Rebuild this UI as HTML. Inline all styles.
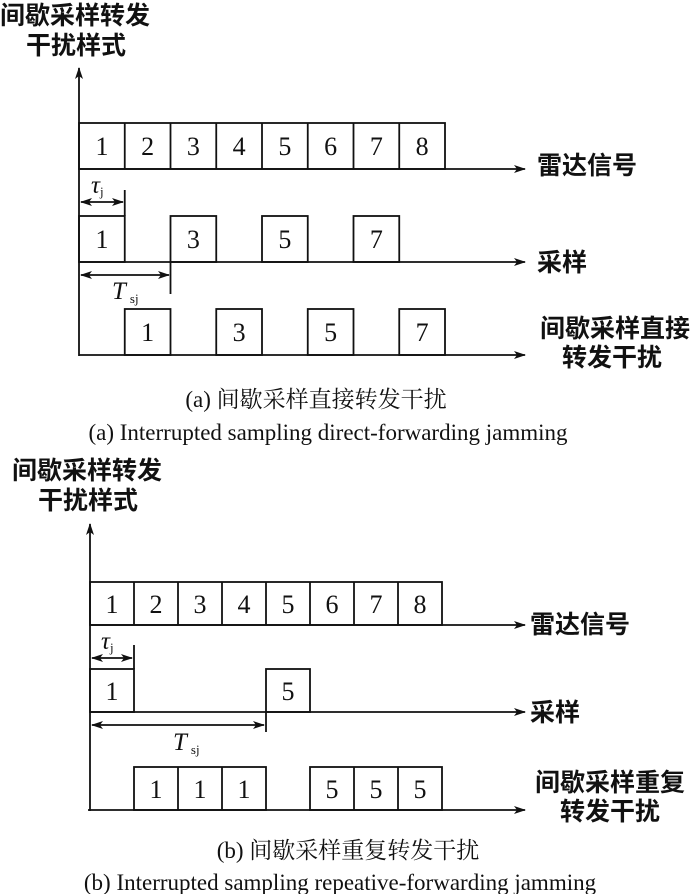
<!DOCTYPE html>
<html><head><meta charset="utf-8"><style>
html,body{margin:0;padding:0;background:#fff;}
svg{display:block;}
text{fill:#111;}
.n{font-family:"Liberation Serif",serif;font-size:26px;text-anchor:middle;}
.c{font-family:"Liberation Serif","Noto Serif CJK SC",serif;font-size:23px;}
.k{font-family:"Liberation Sans","Noto Sans CJK SC",sans-serif;font-size:25px;font-weight:bold;}
</style></head><body>
<svg width="700" height="894" viewBox="0 0 700 894" xmlns="http://www.w3.org/2000/svg">
<defs>
<marker id="a" markerWidth="12" markerHeight="8" refX="11" refY="4" orient="auto" markerUnits="userSpaceOnUse"><path d="M0,0 L12,4 L0,8 L3,4z" fill="#111"/></marker>
<marker id="s" markerWidth="12" markerHeight="8" refX="1" refY="4" orient="auto" markerUnits="userSpaceOnUse"><path d="M12,0 L0,4 L12,8 L9,4z" fill="#111"/></marker>
</defs>
<g stroke="#111" stroke-width="1.8" fill="none">
<line x1="79" y1="356" x2="79" y2="68" marker-end="url(#a)"/>
<line x1="79" y1="169" x2="525" y2="169" marker-end="url(#a)"/>
<line x1="79" y1="262" x2="525" y2="262" marker-end="url(#a)"/>
<line x1="79" y1="355" x2="525" y2="355" marker-end="url(#a)"/>
<rect x="79" y="123" width="366" height="46"/>
<line x1="124.75" y1="123" x2="124.75" y2="169"/><line x1="170.5" y1="123" x2="170.5" y2="169"/><line x1="216.25" y1="123" x2="216.25" y2="169"/><line x1="262" y1="123" x2="262" y2="169"/><line x1="307.75" y1="123" x2="307.75" y2="169"/><line x1="353.5" y1="123" x2="353.5" y2="169"/><line x1="399.25" y1="123" x2="399.25" y2="169"/>
<rect x="79" y="216" width="45.75" height="46"/><rect x="170.5" y="216" width="45.75" height="46"/><rect x="262" y="216" width="45.75" height="46"/><rect x="353.5" y="216" width="45.75" height="46"/>
<rect x="124.75" y="309" width="45.75" height="46"/><rect x="216.25" y="309" width="45.75" height="46"/><rect x="307.75" y="309" width="45.75" height="46"/><rect x="399.25" y="309" width="45.75" height="46"/>
<line x1="124.75" y1="190" x2="124.75" y2="216"/>
<line x1="81" y1="202" x2="123" y2="202" marker-start="url(#s)" marker-end="url(#a)"/>
<line x1="170.5" y1="262" x2="170.5" y2="294"/>
<line x1="81" y1="275" x2="169" y2="275" marker-start="url(#s)" marker-end="url(#a)"/>
<line x1="90" y1="811" x2="90" y2="524" marker-end="url(#a)"/>
<line x1="90" y1="625" x2="525" y2="625" marker-end="url(#a)"/>
<line x1="90" y1="712" x2="525" y2="712" marker-end="url(#a)"/>
<line x1="88" y1="810" x2="525" y2="810" marker-end="url(#a)"/>
<rect x="90" y="582" width="352" height="43"/>
<line x1="134" y1="582" x2="134" y2="625"/><line x1="178" y1="582" x2="178" y2="625"/><line x1="222" y1="582" x2="222" y2="625"/><line x1="266" y1="582" x2="266" y2="625"/><line x1="310" y1="582" x2="310" y2="625"/><line x1="354" y1="582" x2="354" y2="625"/><line x1="398" y1="582" x2="398" y2="625"/>
<rect x="90" y="669" width="44" height="43"/><rect x="266" y="669" width="44" height="43"/>
<rect x="134" y="767" width="132" height="43"/><line x1="178" y1="767" x2="178" y2="810"/><line x1="222" y1="767" x2="222" y2="810"/>
<rect x="310" y="767" width="132" height="43"/><line x1="354" y1="767" x2="354" y2="810"/><line x1="398" y1="767" x2="398" y2="810"/>
<line x1="134" y1="645" x2="134" y2="669"/>
<line x1="92" y1="658" x2="132" y2="658" marker-start="url(#s)" marker-end="url(#a)"/>
<line x1="266" y1="712" x2="266" y2="732"/>
<line x1="92" y1="725" x2="264" y2="725" marker-start="url(#s)" marker-end="url(#a)"/>
</g>
<g class="n">
<text x="102" y="155">1</text><text x="147.6" y="155">2</text><text x="193.4" y="155">3</text><text x="239.1" y="155">4</text><text x="284.9" y="155">5</text><text x="330.6" y="155">6</text><text x="376.4" y="155">7</text><text x="422.1" y="155">8</text>
<text x="102" y="248">1</text><text x="193.4" y="248">3</text><text x="284.9" y="248">5</text><text x="376.4" y="248">7</text>
<text x="147.6" y="341">1</text><text x="239.1" y="341">3</text><text x="330.6" y="341">5</text><text x="422.1" y="341">7</text>
<text x="112" y="613">1</text><text x="156" y="613">2</text><text x="200" y="613">3</text><text x="244" y="613">4</text><text x="288" y="613">5</text><text x="332" y="613">6</text><text x="376" y="613">7</text><text x="420" y="613">8</text>
<text x="112" y="700">1</text><text x="288" y="700">5</text>
<text x="156" y="798">1</text><text x="200" y="798">1</text><text x="244" y="798">1</text><text x="332" y="798">5</text><text x="376" y="798">5</text><text x="420" y="798">5</text>
</g>
<g font-family="Liberation Serif,serif" font-style="italic">
<text x="91" y="193" font-size="25">τ<tspan font-size="13" font-style="normal" dy="3">j</tspan></text>
<text x="112" y="299" font-size="25">T<tspan font-size="13" font-style="normal" dx="4" dy="4">sj</tspan></text>
<text x="101" y="649" font-size="25">τ<tspan font-size="13" font-style="normal" dy="3">j</tspan></text>
<text x="173" y="750" font-size="25">T<tspan font-size="13" font-style="normal" dx="4" dy="4">sj</tspan></text>
</g>
<g class="k">
<text x="0" y="24">间歇采样转发</text>
<text x="26" y="54">干扰样式</text>
<text x="537" y="174">雷达信号</text>
<text x="537" y="271">采样</text>
<text x="540" y="337">间歇采样直接</text>
<text x="562" y="366">转发干扰</text>
<text x="12" y="479">间歇采样转发</text>
<text x="38" y="509">干扰样式</text>
<text x="530" y="633">雷达信号</text>
<text x="530" y="721">采样</text>
<text x="535" y="791">间歇采样重复</text>
<text x="560" y="820">转发干扰</text>
</g>
<g class="c" text-anchor="middle">
<text x="316" y="407">(a) 间歇采样直接转发干扰</text>
<text x="328" y="440">(a) Interrupted sampling direct-forwarding jamming</text>
<text x="348" y="858">(b) 间歇采样重复转发干扰</text>
<text x="340" y="890">(b) Interrupted sampling repeative-forwarding jamming</text>
</g>
</svg>
</body></html>
